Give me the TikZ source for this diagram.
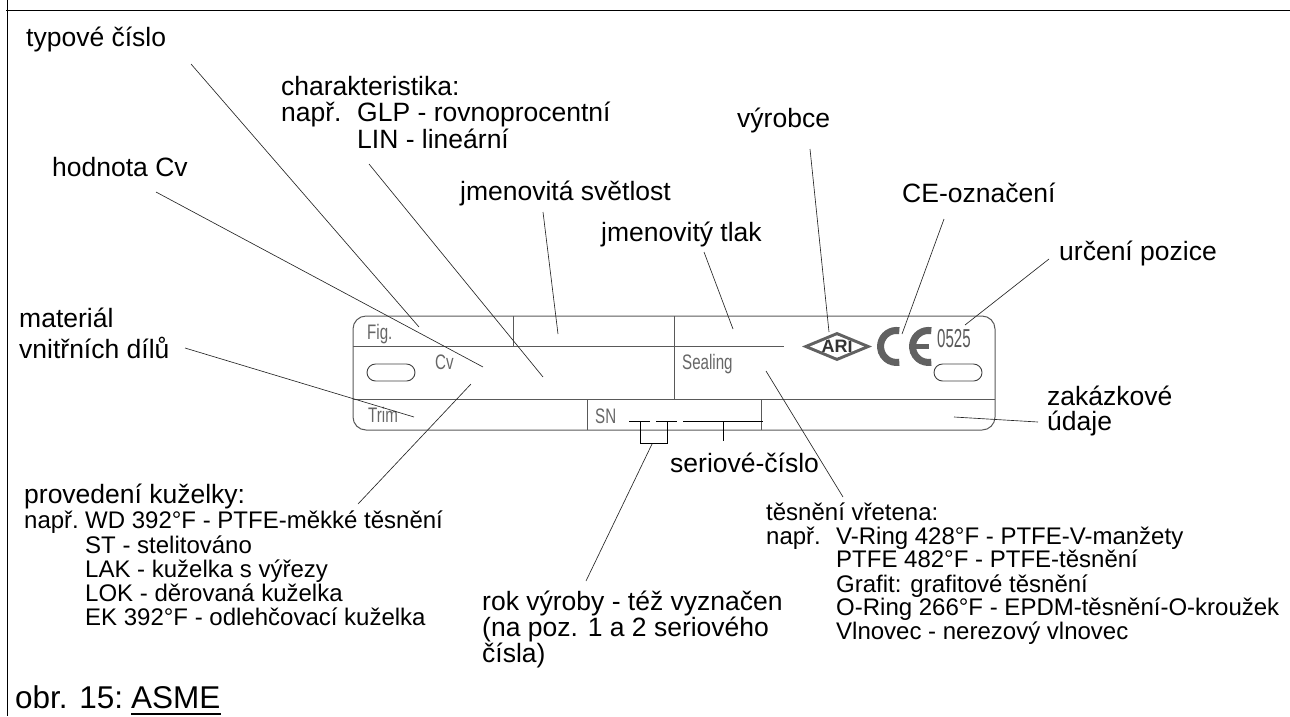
\documentclass[tikz,border=0pt]{standalone}
\usepackage{fontspec}
\setmainfont{Liberation Sans}
\newfontfamily\platefont[FakeStretch=0.72]{Liberation Sans}
\newfontfamily\numfont[FakeStretch=0.58]{Liberation Sans}
\tikzset{
  big/.style={inner sep=0pt,anchor=base west,font=\fontsize{26.5}{28}\selectfont,text=black},
  small/.style={inner sep=0pt,anchor=base west,font=\fontsize{24}{26}\selectfont,text=black},
  capt/.style={inner sep=0pt,anchor=base west,font=\fontsize{31.5}{33}\selectfont,text=black},
  platetext/.style={inner sep=0pt,anchor=base west,font=\platefont\fontsize{21}{23}\selectfont,text=black!60},
  frameline/.style={draw=black,line width=1pt},
  plateline/.style={draw=black!65,line width=1pt},
  leader/.style={draw=black!85,line width=0.65pt},
  marker/.style={draw=black,line width=1pt},
  cemark/.style={draw=black!62,line width=7pt},
}
\begin{document}
\begin{tikzpicture}[x=1pt,y=-1pt]
\useasboundingbox (0,0) rectangle (1290,716);
% outer frame
\coordinate (f1) at (6,10.5); \coordinate (f2) at (1290,10.5);
\coordinate (f3) at (7.5,0); \coordinate (f4) at (7.5,716);
\draw[frameline] (f1) -- (f2);
\draw[frameline] (f3) -- (f4);
% plate outline
\draw[plateline,rounded corners=13pt] (353,316) rectangle (995,430);
\coordinate (r1a) at (353,346); \coordinate (r1b) at (784,346);
\coordinate (r2a) at (353,399); \coordinate (r2b) at (995,399);
\coordinate (v1a) at (513,316); \coordinate (v1b) at (513,346);
\coordinate (v2a) at (674,316); \coordinate (v2b) at (674,399);
\coordinate (v3a) at (587,399); \coordinate (v3b) at (587,430);
\coordinate (v4a) at (761,399); \coordinate (v4b) at (761,430);
\draw[plateline] (r1a) -- (r1b);
\draw[plateline] (r2a) -- (r2b);
\draw[plateline] (v1a) -- (v1b);
\draw[plateline] (v2a) -- (v2b);
\draw[plateline] (v3a) -- (v3b);
\draw[plateline] (v4a) -- (v4b);
% slots
\draw[draw=black!75,line width=0.9pt,rounded corners=8.5pt] (367,364) rectangle (415,381);
\draw[draw=black!75,line width=0.9pt,rounded corners=8.5pt] (934,364) rectangle (982,381);
% plate texts
\node[platetext] (fig) at (367,339) {Fig.};
\node[platetext] (cv) at (435,369) {Cv};
\node[platetext] (trim) at (368,422) {Trim};
\node[platetext] (sn) at (595,423) {SN};
\node[platetext] (sealing) at (682,369) {Sealing};
\node[inner sep=0pt,anchor=base west,font=\numfont\fontsize{26}{28}\selectfont,text=black!65] (pos) at (937,347) {0525};
% ARI logo
\fill[black!62] (802,346.5) -- (837,332) -- (872,346.5) -- (837,361) -- cycle;
\begin{scope}
\clip (810,346.5) -- (837,335.3) -- (864,346.5) -- (837,357.7) -- cycle;
\fill[white] (810,346.5) -- (837,335.3) -- (864,346.5) -- (837,357.7) -- cycle;
\node[inner sep=0pt,font=\bfseries\fontsize{18}{18}\selectfont,text=black!80] (ari) at (837,346.5) {ARI};
\end{scope}
% CE mark
\draw[cemark] (899.3,330.7) arc[start angle=-80,end angle=-280,radius=16];
\draw[cemark] (931.3,330.7) arc[start angle=-80,end angle=-280,radius=16];
\coordinate (ebar1) at (916,346.5); \coordinate (ebar2) at (929,346.5);
\draw[draw=black!62,line width=4.5pt] (ebar1) -- (ebar2);
% serial markers
\coordinate (m1a) at (629,421); \coordinate (m1b) at (650,421);
\coordinate (m2a) at (656,421); \coordinate (m2b) at (677,421);
\coordinate (m3a) at (683,421); \coordinate (m3b) at (763,421);
\coordinate (t1a) at (723,421); \coordinate (t1b) at (723,441);
\coordinate (b1) at (640,421); \coordinate (b2) at (640,443);
\coordinate (b3) at (668,443); \coordinate (b4) at (667,421);
\draw[marker] (m1a) -- (m1b);
\draw[marker] (m2a) -- (m2b);
\draw[marker] (m3a) -- (m3b);
\draw[marker] (t1a) -- (t1b);
\draw[marker] (b1) -- (b2) -- (b3);
\draw[marker] (b4) -- (b4 |- b3);
% labels
\node[big] (typ) at (26,46) {typové číslo};
\node[big] (char1) at (281,95) {charakteristika:};
\node[big] (char2) at (281,121) {např.};
\node[big] (char3) at (357,121) {GLP - rovnoprocentní};
\node[big] (char4) at (357,148) {LIN - lineární};
\node[big] (hod) at (52,176) {hodnota Cv};
\node[big] (vyr) at (737,127) {výrobce};
\node[big] (jsv) at (460,200) {jmenovitá světlost};
\node[big] (ce) at (902,202) {CE-označení};
\node[big] (jtl) at (601,241) {jmenovitý tlak};
\node[big] (urc) at (1059,260) {určení pozice};
\node[big] (mat1) at (19,327) {materiál};
\node[big] (mat2) at (19,358) {vnitřních dílů};
\node[big] (zak1) at (1047,405) {zakázkové};
\node[big] (zak2) at (1047,430) {údaje};
\node[big] (ser) at (670,472) {seriové-číslo};
\node[big] (pro) at (24,503) {provedení kuželky:};
\node[small] (p1) at (24,528) {např.};
\node[small] (p2) at (85,528) {WD 392°F - PTFE-měkké těsnění};
\node[small] (p3) at (85,553) {ST - stelitováno};
\node[small] (p4) at (85,577) {LAK - kuželka s výřezy};
\node[small] (p5) at (85,601) {LOK - děrovaná kuželka};
\node[small] (p6) at (85,625) {EK 392°F - odlehčovací kuželka};
\node[big] (rok1) at (482,610) {rok výroby - též vyznačen};
\node[big] (rok2) at (482,636) {(na poz. 1 a 2 seriového};
\node[big] (rok3) at (482,662) {čísla)};
\node[small] (t0) at (766,520) {těsnění vřetena:};
\node[small] (t1) at (766,544) {např.};
\node[small] (t2) at (836,544) {V-Ring 428°F - PTFE-V-manžety};
\node[small] (t3) at (836,567) {PTFE 482°F - PTFE-těsnění};
\node[small] (t4) at (836,592) {Grafit: grafitové těsnění};
\node[small] (t5) at (836,615) {O-Ring 266°F - EPDM-těsnění-O-kroužek};
\node[small] (t6) at (836,639) {Vlnovec - nerezový vlnovec};
\node[capt] (obr) at (15,708) {obr. 15:};
\node[capt] (asme) at (131,708) {ASME};
\coordinate (u1) at (asme.west |- 0,714); \coordinate (u2) at (asme.east |- 0,714);
\draw[draw=black,line width=1.8pt] (u1) -- (u2);
% leaders
\coordinate (l1a) at (191,64);  \coordinate (l1b) at (419,327);
\coordinate (l2a) at (156,192); \coordinate (l2b) at (483,367);
\coordinate (l3a) at (369,164); \coordinate (l3b) at (543,377);
\coordinate (l4a) at (543,212); \coordinate (l4b) at (558,334);
\coordinate (l5a) at (704,252); \coordinate (l5b) at (733,329);
\coordinate (l6a) at (810,149); \coordinate (l6b) at (829,332);
\coordinate (l7a) at (944,219); \coordinate (l7b) at (902,334);
\coordinate (l8a) at (1049,259);\coordinate (l8b) at (965,325);
\coordinate (l9a) at (185,348); \coordinate (l9b) at (414,417);
\coordinate (l10a) at (358,504);\coordinate (l10b) at (471,384);
\coordinate (l11a) at (652,444);\coordinate (l11b) at (586,581);
\coordinate (l12a) at (766,371);\coordinate (l12b) at (843,497);
\coordinate (l13a) at (954,417);\coordinate (l13b) at (1038,422);
\foreach \n in {1,...,13} \draw[leader] (l\n a) -- (l\n b);
\end{tikzpicture}
\end{document}
